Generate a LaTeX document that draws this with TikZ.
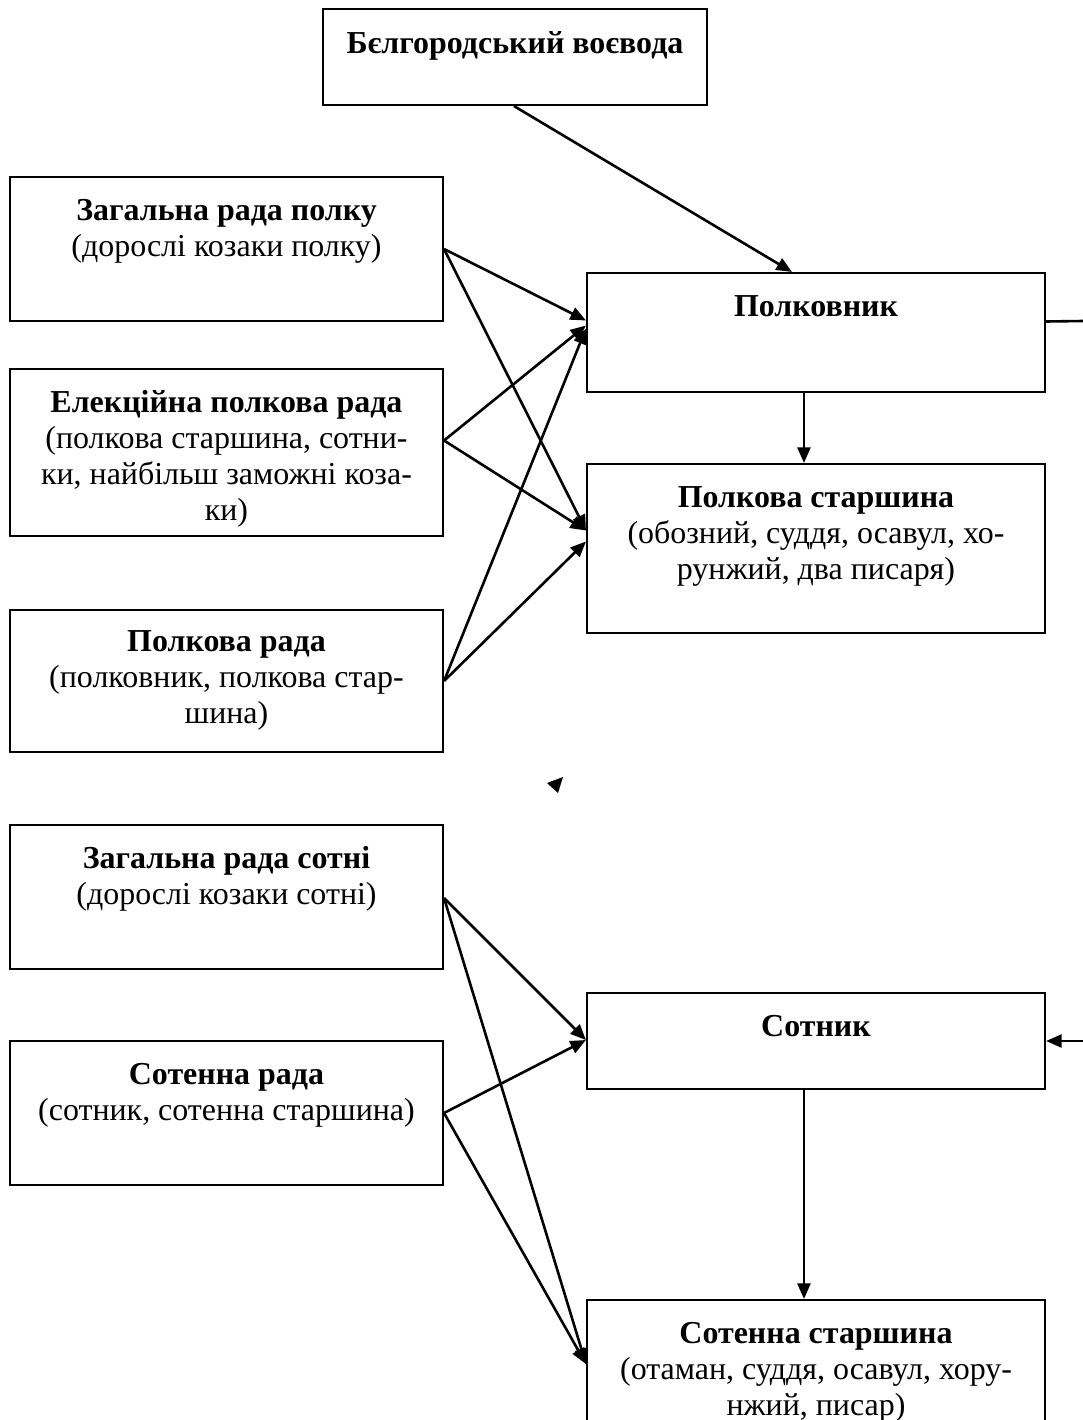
\documentclass[tikz,border=0pt]{standalone}
\usepackage{fontspec}
\setmainfont{Liberation Serif}
\usetikzlibrary{arrows.meta}
\usetikzlibrary{fit, calc}

\begin{document}
\begin{tikzpicture}[x = 0.385pt, y = -0.385pt, font=\fontsize{12.3}{13.85}\selectfont]
	\tikzstyle{boxStyle} = [draw, line width = 0.8pt, inner sep = 0pt]
	\tikzstyle{textStyle} = [anchor = north, align = center, inner sep = 0pt]
	\tikzstyle{arrowStyle} = [line width = 1pt, -{Triangle[length = 6pt, width = 5pt]}]
	\useasboundingbox (0,0) rectangle (1083,1420);
	\clip (0,0) rectangle (1083,1420);
	% boxes
	\node[boxStyle, fit = {(323,9) (707,105)}] (voev) {};
	\node[boxStyle, fit = {(10,177) (443,321)}] (zrPolk) {};
	\node[boxStyle, fit = {(10,369) (443,536)}] (elRada) {};
	\node[boxStyle, fit = {(10,610) (443,752)}] (pRada) {};
	\node[boxStyle, fit = {(587,273) (1045,392)}] (polk) {};
	\node[boxStyle, fit = {(587,464) (1045,633)}] (pStar) {};
	\node[boxStyle, fit = {(10,825) (443,969)}] (zrSotn) {};
	\node[boxStyle, fit = {(10,1041) (443,1185)}] (sRada) {};
	\node[boxStyle, fit = {(587,993) (1045,1089)}] (sotn) {};
	\node[boxStyle, fit = {(587,1300) (1045,1470)}] (sStar) {};
	% texts
	\node[textStyle] (tVoev) at ($(voev.north)+(0,20)$) {\strut\textbf{Бєлгородський воєвода}};
	\node[textStyle] (tZrPolk) at ($(zrPolk.north)+(0,19)$) {\strut\textbf{Загальна рада полку}\\(дорослі козаки полку)};
	\node[textStyle] (tElRada) at ($(elRada.north)+(0,19)$) {\strut\textbf{Елекційна полкова рада}\\(полкова старшина, сотни-\\ки, найбільш заможні коза-\\ки)};
	\node[textStyle] (tPRada) at ($(pRada.north)+(0,17)$) {\strut\textbf{Полкова рада}\\(полковник, полкова стар-\\шина)};
	\node[textStyle] (tPolk) at ($(polk.north)+(0,19)$) {\strut\textbf{Полковник}};
	\node[textStyle] (tPStar) at ($(pStar.north)+(0,19)$) {\strut\textbf{Полкова старшина}\\(обозний, суддя, осавул, хо-\\рунжий, два писаря)};
	\node[textStyle] (tZrSotn) at ($(zrSotn.north)+(0,19)$) {\strut\textbf{Загальна рада сотні}\\(дорослі козаки сотні)};
	\node[textStyle] (tSRada) at ($(sRada.north)+(0,19)$) {\strut\textbf{Сотенна рада}\\(сотник, сотенна старшина)};
	\node[textStyle] (tSotn) at ($(sotn.north)+(0,19)$) {\strut\textbf{Сотник}};
	\node[textStyle] (tSStar) at ($(sStar.north)+(0,19)$) {\strut\textbf{Сотенна старшина}\\(отаман, суддя, осавул, хору-\\нжий, писар)};
	% free ends at the right margin
	\coordinate (rightTop) at (1083,321);
	\coordinate (rightLow) at (1083,1041);
	% connectors
	\draw[arrowStyle] ($(voev.south west)+(192,0)$) -- ($(polk.north west)+(206,0)$);
	\draw[arrowStyle] (zrPolk.east) -- ($(polk.west)+(0,-12)$);
	\draw[arrowStyle] (zrPolk.east) -- ($(pStar.west)+(0,-18)$);
	\draw[arrowStyle] ($(elRada.east)+(0,-12)$) -- ($(polk.west)+(0,-7)$);
	\draw[arrowStyle] ($(elRada.east)+(0,-12)$) -- ($(pStar.west)+(0,-18)$);
	\draw[arrowStyle] (pRada.east) -- ($(polk.west)+(0,-4)$);
	\draw[arrowStyle] (pRada.east) -- ($(pStar.west)+(0,-7)$);
	\draw[arrowStyle] ($(polk.south west)+(218,0)$) -- ($(pStar.north west)+(218,0)$);
	\draw[line width = 1pt] ($(polk.east)+(0,-11)$) -- (rightTop);
	\draw[arrowStyle] (rightLow) -- (sotn.east);
	\draw[arrowStyle] ($(zrSotn.east)+(0,1)$) -- ($(sotn.west)+(0,-1)$);
	\draw[arrowStyle] ($(zrSotn.east)+(0,1)$) -- ($(sStar.north west)+(0,65)$);
	\draw[arrowStyle] (sRada.east) -- ($(sotn.west)+(0,-1)$);
	\draw[arrowStyle] (sRada.east) -- ($(sStar.north west)+(0,65)$);
	\draw[arrowStyle] ($(sotn.south west)+(218,0)$) -- ($(sStar.north west)+(218,0)$);
	% stray arrow tip
	\fill (547,783) -- (563,777) -- (558,793) -- cycle;
\end{tikzpicture}
\end{document}
